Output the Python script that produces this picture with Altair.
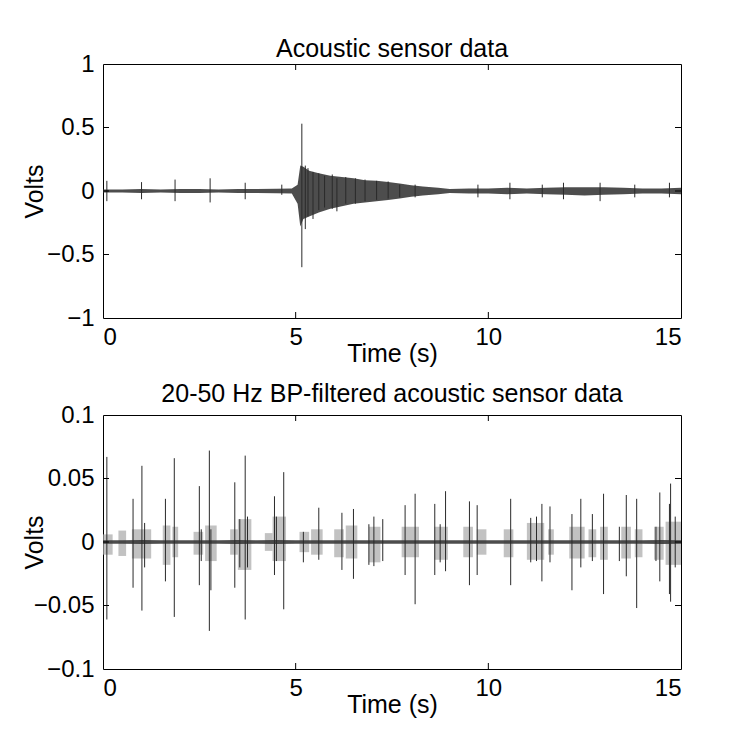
import altair as alt
import pandas as pd

# ---------------- Panel 1: raw acoustic sensor data ----------------
env1_t = [0, 0.5, 1, 1.5, 2, 2.5, 3, 3.5, 4, 4.5, 4.9, 5.05, 5.12, 5.2, 5.35, 5.6,
          5.9, 6.2, 6.5, 6.8, 7.1, 7.4, 7.7, 8.0, 8.3, 8.7, 9.0, 9.5, 10, 10.5, 11,
          11.5, 12, 12.5, 13, 13.5, 14, 14.5, 15]
env1_hi = [0.012, 0.012, 0.015, 0.012, 0.015, 0.015, 0.012, 0.015, 0.015, 0.018, 0.02,
           0.05, 0.2, 0.19, 0.16, 0.14, 0.12, 0.11, 0.1, 0.085, 0.08, 0.07, 0.06, 0.045,
           0.035, 0.025, 0.015, 0.02, 0.02, 0.025, 0.02, 0.025, 0.03, 0.03, 0.03, 0.025,
           0.02, 0.02, 0.025]
env1_lo = [-0.012, -0.012, -0.015, -0.012, -0.015, -0.015, -0.012, -0.015, -0.015, -0.018,
           -0.02, -0.1, -0.28, -0.22, -0.2, -0.17, -0.14, -0.12, -0.1, -0.09, -0.08, -0.07,
           -0.06, -0.045, -0.035, -0.025, -0.015, -0.02, -0.02, -0.025, -0.02, -0.025,
           -0.03, -0.035, -0.03, -0.025, -0.02, -0.02, -0.025]

spk1_t = [0.1, 1.0, 1.87, 2.78, 3.69, 4.64, 5.16, 5.25, 5.32, 5.45, 5.6, 5.75, 5.95,
          6.07, 6.3, 6.55, 6.8, 7.1, 7.4, 7.7, 8.1, 9.73, 10.56, 11.4, 11.95, 12.9,
          13.8, 14.7]
spk1_hi = [0.08, 0.07, 0.09, 0.1, 0.065, 0.05, 0.53, 0.2, 0.18, 0.15, 0.14, 0.12, 0.13,
           0.1, 0.11, 0.1, 0.09, 0.08, 0.075, 0.05, 0.05, 0.05, 0.065, 0.05, 0.065,
           0.065, 0.05, 0.065]
spk1_lo = [-0.08, -0.065, -0.08, -0.09, -0.065, -0.03, -0.6, -0.3, -0.2, -0.22, -0.15,
           -0.13, -0.14, -0.16, -0.1, -0.1, -0.08, -0.07, -0.06, -0.05, -0.05, -0.05,
           -0.065, -0.05, -0.065, -0.08, -0.05, -0.05]

# ---------------- Panel 2: 20-50 Hz band-pass filtered ----------------
env2_t = [0, 0.5, 1, 1.5, 2, 2.5, 3, 3.5, 4, 4.5, 5, 5.5, 6, 6.5, 7, 7.5, 8, 8.5, 9,
          9.5, 10, 10.5, 11, 11.5, 12, 12.5, 13, 13.5, 14, 14.5, 15]
env2_hi = [0.0013, 0.0013, 0.0016, 0.0013, 0.0013, 0.0013, 0.0013, 0.0016, 0.0013,
           0.0016, 0.0013, 0.0013, 0.0013, 0.0013, 0.0013, 0.0013, 0.0013, 0.0013,
           0.0013, 0.0013, 0.0013, 0.0013, 0.0013, 0.0013, 0.0013, 0.0013, 0.0013,
           0.0013, 0.0013, 0.0016, 0.0013]
env2_lo = [-0.0013, -0.0013, -0.0016, -0.0013, -0.0013, -0.0013, -0.0013, -0.0016,
           -0.0013, -0.0016, -0.0013, -0.0013, -0.0013, -0.0013, -0.0013, -0.0013,
           -0.0013, -0.0013, -0.0013, -0.0013, -0.0013, -0.0013, -0.0013, -0.0013,
           -0.0013, -0.0013, -0.0013, -0.0013, -0.0013, -0.0016, -0.0013]

clu2_start = [0.0, 0.4, 0.75, 1.55, 1.8, 2.35, 2.65, 3.3, 3.5, 4.2, 4.4, 5.1, 5.4, 6.0,
              6.3, 6.9, 7.75, 8.6, 9.35, 9.7, 10.4, 11.0, 11.55, 12.1, 12.6, 12.9,
              13.45, 13.8, 14.3, 14.6]
clu2_end = [0.25, 0.6, 1.25, 1.75, 1.95, 2.6, 2.95, 3.5, 3.85, 4.4, 4.75, 5.35, 5.7,
            6.25, 6.6, 7.2, 8.2, 8.95, 9.6, 9.95, 10.65, 11.45, 11.7, 12.5, 12.8, 13.1,
            13.7, 14.0, 14.55, 15.0]
clu2_hi = [0.006, 0.009, 0.01, 0.013, 0.012, 0.008, 0.013, 0.01, 0.018, 0.007, 0.02,
           0.008, 0.01, 0.01, 0.013, 0.012, 0.012, 0.012, 0.012, 0.01, 0.01, 0.015,
           0.01, 0.012, 0.01, 0.012, 0.012, 0.01, 0.012, 0.016]
clu2_lo = [-0.01, -0.011, -0.013, -0.018, -0.012, -0.01, -0.015, -0.01, -0.022, -0.007,
           -0.015, -0.008, -0.01, -0.012, -0.013, -0.016, -0.012, -0.014, -0.012, -0.01,
           -0.012, -0.014, -0.01, -0.013, -0.012, -0.014, -0.013, -0.012, -0.014, -0.018]

spk2_t = [0.1, 0.78, 1.01, 1.08, 1.62, 1.85, 2.5, 2.55, 2.76, 2.8, 3.42, 3.55, 3.69,
          3.75, 4.45, 4.5, 4.69, 5.2, 5.6, 6.2, 6.5, 6.9, 7.03, 7.26, 7.84, 8.1, 8.61,
          8.75, 8.89, 9.51, 9.71, 10.58, 11.1, 11.25, 11.39, 11.6, 12.17, 12.4, 12.7,
          12.99, 13.4, 13.58, 13.85, 14.35, 14.45, 14.7, 14.73, 14.85]
spk2_hi = [0.067, 0.034, 0.06, 0.015, 0.034, 0.066, 0.044, 0.01, 0.072, 0.01, 0.047,
           0.018, 0.068, 0.02, 0.036, 0.02, 0.055, 0.008, 0.027, 0.023, 0.026, 0.014,
           0.02, 0.018, 0.029, 0.038, 0.03, 0.014, 0.04, 0.032, 0.029, 0.034, 0.019,
           0.02, 0.03, 0.028, 0.022, 0.034, 0.022, 0.038, 0.012, 0.037, 0.034, 0.012,
           0.039, 0.03, 0.046, 0.02]
spk2_lo = [-0.061, -0.036, -0.054, -0.02, -0.031, -0.059, -0.034, -0.015, -0.07,
           -0.038, -0.036, -0.02, -0.061, -0.02, -0.026, -0.015, -0.053, -0.016, -0.014,
           -0.022, -0.029, -0.018, -0.019, -0.015, -0.026, -0.049, -0.026, -0.016,
           -0.023, -0.034, -0.026, -0.034, -0.016, -0.015, -0.031, -0.016, -0.038, -0.02,
           -0.015, -0.041, -0.015, -0.027, -0.052, -0.015, -0.031, -0.041, -0.047, -0.02]

x_ticks = [0, 5, 10, 15]
x_inner = [5, 10]
y1_ticks = [-1, -0.5, 0, 0.5, 1]
y1_inner = [-0.5, 0, 0.5]
y2_ticks = [-0.1, -0.05, 0, 0.05, 0.1]
y2_inner = [-0.05, 0, 0.05]

W, H = 578, 254
FONT = "Liberation Sans"
TL = 6  # inward tick length


def panel(title, title_offset, env, spk, clu, ydom, yticks, yinner):
    xs = alt.Scale(domain=[0, 15], nice=False, zero=False)
    ys = alt.Scale(domain=ydom, nice=False, zero=False)
    xax = alt.Axis(values=x_ticks, format="~g", title="Time (s)", ticks=False,
                   domain=False, grid=False, labelPadding=7, titlePadding=-8,
                   labelFontSize=24, titleFontSize=25, labelFont=FONT, titleFont=FONT,
                   titleFontWeight="normal", labelColor="black", titleColor="black")
    yax = alt.Axis(values=yticks, format="~g", title="Volts", ticks=False,
                   domain=False, grid=False, labelPadding=9, minExtent=46,
                   maxExtent=46, titlePadding=10, labelFontSize=24, titleFontSize=25,
                   labelFont=FONT, titleFont=FONT, titleFontWeight="normal",
                   labelColor="black", titleColor="black")
    X = lambda f: alt.X(f, scale=xs, axis=xax)
    Y = lambda f: alt.Y(f, scale=ys, axis=yax)

    layers = []
    if clu is not None:
        layers.append(
            alt.Chart(clu).mark_rect(color="#a8a8a8", opacity=0.7)
            .encode(x=X("s:Q"), x2="e:Q", y=Y("hi:Q"), y2="lo:Q"))
    layers.append(
        alt.Chart(env).mark_area(color="#3a3a3a", opacity=0.9)
        .encode(x=X("t:Q"), y=Y("hi:Q"), y2="lo:Q"))
    layers.append(
        alt.Chart(spk).mark_rule(color="#2a2a2a", strokeWidth=1)
        .encode(x=X("t:Q"), y=Y("hi:Q"), y2="lo:Q"))
    xt = pd.DataFrame({"t": x_inner})
    yt = pd.DataFrame({"v": yinner})
    layers.append(alt.Chart(xt).mark_rule(color="black")
                  .encode(x=X("t:Q"), y=alt.value(0), y2=alt.value(TL)))
    layers.append(alt.Chart(xt).mark_rule(color="black")
                  .encode(x=X("t:Q"), y=alt.value(H), y2=alt.value(H - TL)))
    layers.append(alt.Chart(yt).mark_rule(color="black")
                  .encode(y=Y("v:Q"), x=alt.value(0), x2=alt.value(TL)))
    layers.append(alt.Chart(yt).mark_rule(color="black")
                  .encode(y=Y("v:Q"), x=alt.value(W), x2=alt.value(W - TL)))
    return alt.layer(*layers).properties(
        width=W, height=H,
        title=alt.TitleParams(title, fontSize=25, font=FONT, fontWeight="normal",
                              color="black", offset=title_offset, anchor="middle"))


env1 = pd.DataFrame({"t": env1_t, "hi": env1_hi, "lo": env1_lo})
spk1 = pd.DataFrame({"t": spk1_t, "hi": spk1_hi, "lo": spk1_lo})
env2 = pd.DataFrame({"t": env2_t, "hi": env2_hi, "lo": env2_lo})
spk2 = pd.DataFrame({"t": spk2_t, "hi": spk2_hi, "lo": spk2_lo})
clu2 = pd.DataFrame({"s": clu2_start, "e": clu2_end, "hi": clu2_hi, "lo": clu2_lo})

p1 = panel("Acoustic sensor data", -10, env1, spk1, None, [-1, 1], y1_ticks, y1_inner)
p2 = panel("20-50 Hz BP-filtered acoustic sensor data", -4, env2, spk2, clu2,
           [-0.1, 0.1], y2_ticks, y2_inner)

chart = alt.vconcat(p1, p2, spacing=97, bounds="flush").properties(
    padding={"left": 13, "top": 28, "right": 5, "bottom": 5}
).configure(background="white").configure_view(stroke="black", strokeWidth=1)

chart.save("out.html", embed_options={"renderer": "svg", "actions": False})
